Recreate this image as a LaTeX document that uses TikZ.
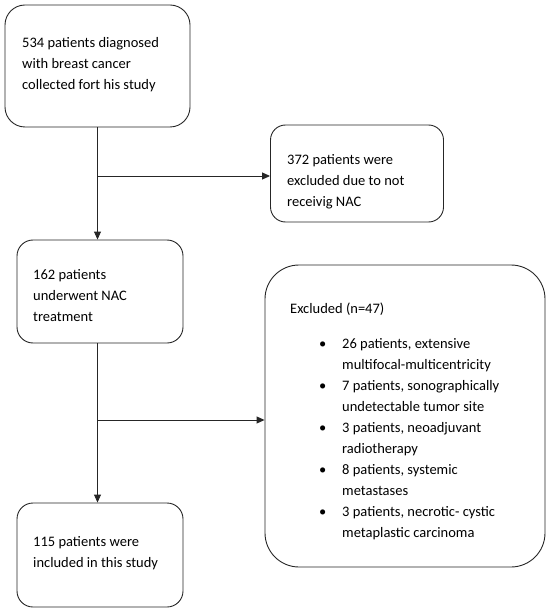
\documentclass[tikz,border=0pt]{standalone}
\usepackage{fontspec}
\setmainfont{Carlito}
\usetikzlibrary{arrows.meta}
\tikzset{
  box/.style={draw=black!85, line width=0.9pt, rounded corners=#1, inner sep=0pt},
  box/.default=16pt,
  txt/.style={anchor=west, align=left, inner sep=0pt, font=\fontsize{14.5}{21}\selectfont},
  link/.style={draw=black!85, line width=0.9pt},
  arr/.style={link, -{Triangle[length=8pt,width=7pt]}}
}
\begin{document}
\begin{tikzpicture}[x=1pt,y=-1pt]
\useasboundingbox (0,0) rectangle (550,612);
% boxes
\node[box=20pt, minimum width=185pt, minimum height=122pt] (b1) at (97.5,66) {};
\node[box=15pt, minimum width=173pt, minimum height=97pt] (b2) at (357,173.5) {};
\node[box=16pt, minimum width=166pt, minimum height=103pt] (b3) at (100,291.5) {};
\node[box=34pt, minimum width=280pt, minimum height=302pt] (b4) at (405,416) {};
\node[box=16pt, minimum width=166pt, minimum height=104pt] (b5) at (100,555) {};
% texts
\node[txt] (t1) at (22,65) {534 patients diagnosed\\with breast cancer\\collected fort his study};
\node[txt] (t2) at (287,181.5) {372 patients were\\excluded due to not\\receivig NAC};
\node[txt] (t3) at (33,296) {162 patients\\underwent NAC\\treatment};
\node[txt] (t5) at (33,553.5) {115 patients were\\included in this study};
\node[inner sep=0pt, anchor=north west, font=\fontsize{14.5}{21}\selectfont] (t4) at (290,298.8)
{\begin{tabular}{@{\hspace{29pt}}p{23pt}@{}l@{}}
\multicolumn{2}{@{}l@{}}{Excluded (n=47)}\\[14pt]
• & 26 patients, extensive\\
  & multifocal-multicentricity\\
• & 7 patients, sonographically\\
  & undetectable tumor site\\
• & 3 patients, neoadjuvant\\
  & radiotherapy\\
• & 8 patients, systemic\\
  & metastases\\
• & 3 patients, necrotic- cystic\\
  & metaplastic carcinoma
\end{tabular}};
% connectors
\coordinate (j1) at (97.5,176);
\coordinate (j2) at (97.5,420);
\draw[arr] (b1.south) -- (b1.south |- b3.north);
\draw[arr] (j1) -- (j1 -| b2.west);
\draw[arr] (b1.south |- b3.south) -- (b1.south |- b5.north);
\draw[arr] (j2) -- (j2 -| b4.west);
\end{tikzpicture}
\end{document}
